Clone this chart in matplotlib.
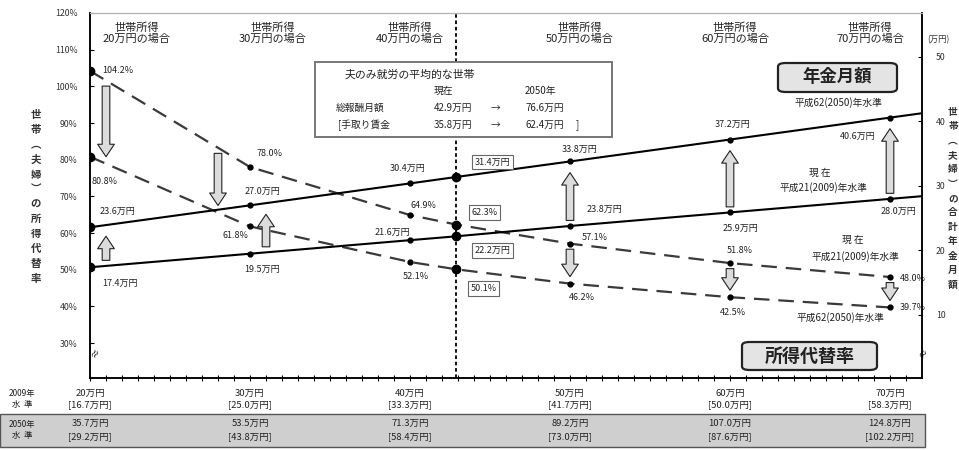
import numpy as np
import matplotlib.pyplot as plt
from matplotlib.patches import Rectangle, FancyBboxPatch
from matplotlib.transforms import blended_transform_factory

plt.rcParams['font.family'] = ['Noto Sans CJK JP', 'DejaVu Sans']

# 世帯所得（総報酬月額, 万円）: 20〜70万円 と 平均的な世帯 42.9万円
income = [20, 30, 40, 42.9, 50, 60, 70]
pension_2050 = [23.6, 27.0, 30.4, 31.4, 33.8, 37.2, 40.6]   # 年金月額 平成62(2050)年水準
pension_2009 = [17.4, 19.5, 21.6, 22.2, 23.8, 25.9, 28.0]   # 年金月額 平成21(2009)年水準
rate_2009 = [104.2, 78.0, 64.9, 62.3, 57.1, 51.8, 48.0]     # 所得代替率 現在
rate_2050 = [80.8, 61.8, 52.1, 50.1, 46.2, 42.5, 39.7]      # 所得代替率 2050年

# 下の表
table_income = [20, 30, 40, 50, 60, 70]
net_2009 = [16.7, 25.0, 33.3, 41.7, 50.0, 58.3]
gross_2050 = [35.7, 53.5, 71.3, 89.2, 107.0, 124.8]
net_2050 = [29.2, 43.8, 58.4, 73.0, 87.6, 102.2]

W, H = 959, 450
fig = plt.figure(figsize=(W / 100, H / 100), dpi=100)


def fx(px):
    return px / W


def fy(py):
    return 1 - py / H


ax = fig.add_axes([fx(90), fy(378), fx(832), 365 / H])
ax.set_xlim(20, 72)
ax.set_ylim(20.46, 120)
ax2 = ax.twinx()
ax2.set_ylim(0.23, 56.82)

for a in (ax, ax2):
    a.spines['top'].set_color('#b0b0b0')
    a.spines['left'].set_linewidth(1.1)
    a.spines['right'].set_linewidth(1.1)
    a.spines['bottom'].set_linewidth(1.1)

ax.set_yticks(range(30, 121, 10))
ax.set_yticklabels([f'{v}%' for v in range(30, 121, 10)], fontsize=6.3, color='#333')
ax.tick_params(axis='y', direction='in', length=3, pad=9)
ax.set_xticks([])
ax.set_xticks(np.arange(20, 72, 1), minor=True)
ax.tick_params(axis='x', which='minor', direction='inout', length=4, width=0.8)
ax2.set_yticks(range(10, 51, 10))
ax2.set_yticklabels([str(v) for v in range(10, 51, 10)], fontsize=6.3, color='#333')
ax2.tick_params(axis='y', direction='in', length=3, pad=10)
ax2.set_xticks([])

# 軸の省略記号
fig.text(fx(96), fy(353), '≈', fontsize=7, ha='center', va='center', rotation=60)
fig.text(fx(924), fy(353), '≈', fontsize=7, ha='center', va='center', rotation=60)

# 平均的な世帯の位置
ax.axvline(42.9, color='k', lw=1.3, ls=(0, (2, 1.5)), zorder=1)


def extend(xs, ys, x_end=72):
    slope = (ys[-1] - ys[-2]) / (xs[-1] - xs[-2])
    return list(xs) + [x_end], list(ys) + [ys[-1] + slope * (x_end - xs[-1])]


# 年金月額（実線）
for series in (pension_2050, pension_2009):
    ex, ey = extend(income, series)
    ax2.plot(ex, ey, color='k', lw=1.5, zorder=3)
    ax2.plot(income, series, 'o', color='k', ms=3.5, zorder=4)
    ax2.plot([income[0], income[3]], [series[0], series[3]], 'o', color='k', ms=6, zorder=4)

# 所得代替率（破線）
for series in (rate_2009, rate_2050):
    ax.plot(income, series, color='#3a3a3a', lw=1.6, ls=(0, (7, 4)), zorder=3)
    ax.plot(income, series, 'o', color='k', ms=3.5, zorder=4)
    ax.plot([income[0], income[3]], [series[0], series[3]], 'o', color='k', ms=6, zorder=4)


def block_arrow(axis, x, y0, y1, sa, sb):
    axis.annotate('', xy=(x, y1), xytext=(x, y0),
                  arrowprops=dict(arrowstyle='simple,head_width=1.2,head_length=0.9,tail_width=0.55',
                                  fc='#dcdcdc', ec='#222', lw=0.8, shrinkA=sa, shrinkB=sb),
                  zorder=5)


pension_arrow_x = [21, 31, 50, 60, 70]
rate_arrow_x = [21, 28, 50, 60, 70]
for x in pension_arrow_x:
    block_arrow(ax2, x, np.interp(x, income, pension_2009), np.interp(x, income, pension_2050), 4, 8)
for x in rate_arrow_x:
    block_arrow(ax, x, np.interp(x, income, rate_2009), np.interp(x, income, rate_2050), 4, 5)

# 値ラベル（点からのずれ, ピクセル）
lab_p2050 = [(27, 16), (12, 14), (-2, 15), (36, 15), (10, 12), (3, 15), (-32, -19)]
lab_p2009 = [(30, -16), (12, -16), (-18, 8), (36, -14), (34, 17), (10, -16), (8, -13)]
lab_r2009 = [(28, 0), (20, 14), (13, 10), (28, 12), (25, 6), (10, 13), (23, -1)]
lab_r2050 = [(15, -25), (-15, -9), (6, -15), (27, -19), (12, -14), (3, -15), (23, 0)]

boxed = dict(boxstyle='square,pad=0.3', fc='white', ec='#666', lw=0.8)


def value_labels(axis, values, offsets, fmt):
    for i, (x, v, off) in enumerate(zip(income, values, offsets)):
        axis.annotate(fmt.format(v), (x, v), xytext=off, textcoords='offset pixels',
                      ha='center', va='center', fontsize=6.5, color='#222', zorder=6,
                      bbox=boxed if i == 3 else None)


value_labels(ax2, pension_2050, lab_p2050, '{:.1f}万円')
value_labels(ax2, pension_2009, lab_p2009, '{:.1f}万円')
value_labels(ax, rate_2009, lab_r2009, '{:.1f}%')
value_labels(ax, rate_2050, lab_r2050, '{:.1f}%')

# 上部の見出し
head_shift = [47, 23, 0, 10, 5, -20]
top = blended_transform_factory(ax.transData, fig.transFigure)
for x, dx in zip(table_income, head_shift):
    ax.annotate(f'世帯所得\n{x}万円の場合', (x, fy(33)), xycoords=top, xytext=(dx, 0),
                textcoords='offset pixels', ha='center', va='center', fontsize=8,
                linespacing=1.15, color='#222', annotation_clip=False)

# 平均的な世帯の枠
fig.patches.append(Rectangle((fx(315), fy(137)), fx(297), 75 / H, transform=fig.transFigure,
                             fc='white', ec='#777', lw=1.4, zorder=2))
box_txt = dict(fontsize=7, va='center', color='#222', zorder=3)
fig.text(fx(345), fy(75), '夫のみ就労の平均的な世帯', ha='left', fontsize=7.8, va='center',
         color='#222', zorder=3)
fig.text(fx(443), fy(91), '現在', ha='center', **box_txt)
fig.text(fx(540), fy(91), '2050年', ha='center', **box_txt)
fig.text(fx(336), fy(108), '総報酬月額', ha='left', **box_txt)
fig.text(fx(338), fy(125), '[手取り賃金', ha='left', **box_txt)
for yy, a, b in ((108, '42.9万円', '76.6万円'), (125, '35.8万円', '62.4万円')):
    fig.text(fx(453), fy(yy), a, ha='center', **box_txt)
    fig.text(fx(495), fy(yy), '→', ha='center', **box_txt)
    fig.text(fx(545), fy(yy), b, ha='center', **box_txt)
fig.text(fx(577), fy(125), ']', ha='center', **box_txt)


def title_box(x0, y0, x1, y1, text, size):
    fig.patches.append(FancyBboxPatch((fx(x0), fy(y1)), fx(x1 - x0), (y1 - y0) / H,
                                      boxstyle='round,pad=0,rounding_size=0.008',
                                      transform=fig.transFigure, fc='#e4e4e4', ec='#222',
                                      lw=1.6, zorder=2))
    fig.text(fx((x0 + x1) / 2), fy((y0 + y1) / 2), text, ha='center', va='center',
             fontsize=size, fontweight='bold', color='#222', zorder=3)


title_box(778, 63, 897, 92, '年金月額', 12.5)
title_box(742, 342, 877, 370, '所得代替率', 13)

note = dict(fontsize=7, ha='center', va='center', color='#222')
fig.text(fx(838), fy(103), '平成62(2050)年水準', **note)
fig.text(fx(820), fy(173), '現 在', **note)
fig.text(fx(823), fy(188), '平成21(2009)年水準', **note)
fig.text(fx(853), fy(240), '現 在', **note)
fig.text(fx(855), fy(257), '平成21(2009)年水準', **note)
fig.text(fx(840), fy(318), '平成62(2050)年水準', **note)
fig.text(fx(938), fy(40), '(万円)', fontsize=6, ha='center', va='center', color='#333')

# 縦書きの軸ラベル
fig.text(fx(36), fy(197), '\n'.join('世帯︵夫婦︶の所得代替率'), fontsize=7.5,
         ha='center', va='center', linespacing=1.6, fontweight='bold', color='#333')
fig.text(fx(953), fy(198), '\n'.join('世帯︵夫婦︶の合計年金月額'), fontsize=7,
         ha='center', va='center', linespacing=1.55, fontweight='bold', color='#333')

# 下の表
fig.patches.append(Rectangle((0, fy(447)), fx(925), 33 / H, transform=fig.transFigure,
                             fc='#cfcfcf', ec='#555', lw=1.0, zorder=-1))
tab = dict(fontsize=6.8, ha='center', va='center', color='#222', annotation_clip=False)
for x, n9, g5, n5 in zip(table_income, net_2009, gross_2050, net_2050):
    ax.annotate(f'{x}万円', (x, fy(393)), xycoords=top, **tab)
    ax.annotate(f'[{n9:.1f}万円]', (x, fy(405)), xycoords=top, **tab)
    ax.annotate(f'{g5:.1f}万円', (x, fy(423)), xycoords=top, **tab)
    ax.annotate(f'[{n5:.1f}万円]', (x, fy(437)), xycoords=top, **tab)
fig.text(fx(22), fy(399), '2009年\n水  準', fontsize=6, ha='center', va='center',
         linespacing=1.3, color='#222')
fig.text(fx(22), fy(430), '2050年\n水  準', fontsize=6, ha='center', va='center',
         linespacing=1.3, color='#222')

fig.savefig('out.png', dpi=100)
